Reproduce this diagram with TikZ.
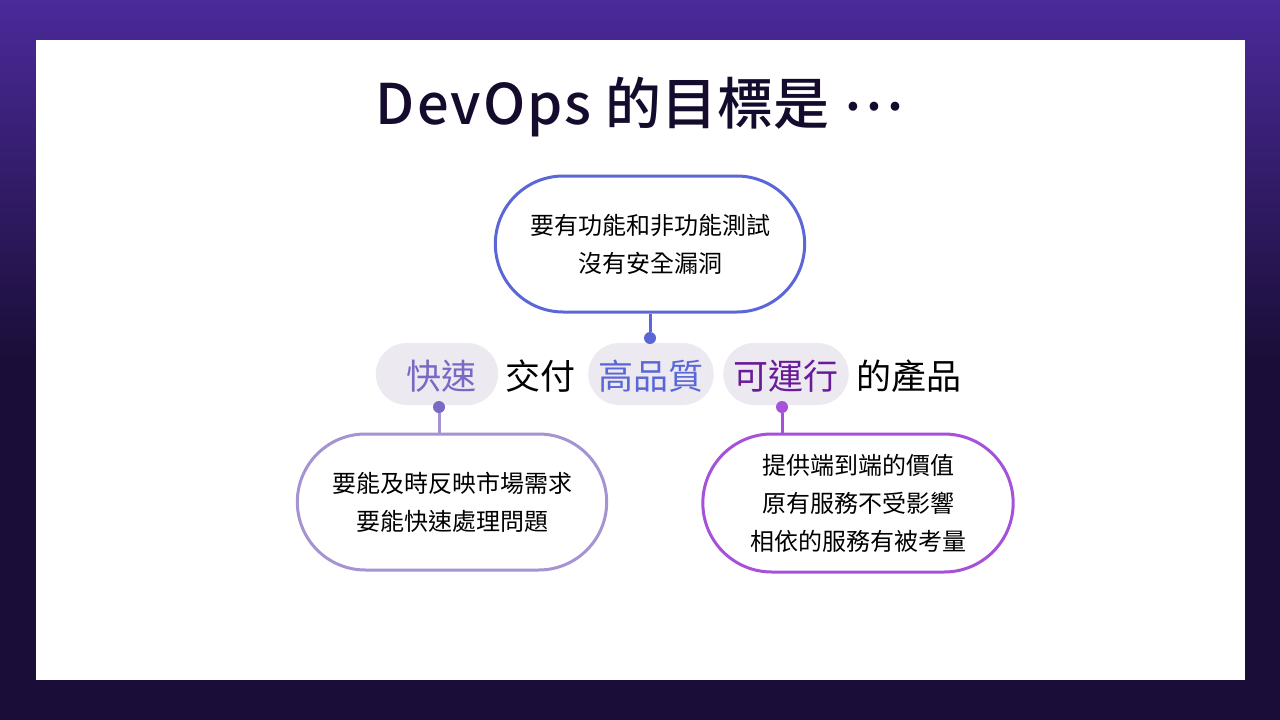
\documentclass[tikz,border=0pt]{standalone}
\usepackage{fontspec}
\setmainfont{Noto Sans CJK TC}
\newfontfamily\boldcjk{Noto Sans CJK TC Medium}
\usetikzlibrary{shapes.misc}
\definecolor{bgA}{HTML}{1A0E38}
\definecolor{bgB}{HTML}{4B2A9A}
\definecolor{cBlue}{HTML}{5B67D6}
\definecolor{cLav}{HTML}{A593D2}
\definecolor{cPur}{HTML}{A551DA}
\definecolor{tLav}{HTML}{7B68C4}
\definecolor{tPur}{HTML}{6A1B9A}
\definecolor{pill}{HTML}{ECE9F1}
\tikzset{
 bubble/.style={draw=#1, line width=3pt, rounded rectangle, fill=white, align=center, font=\fontsize{24}{38}\selectfont},
 pillbox/.style={fill=pill, rounded rectangle, minimum height=62pt},
 word/.style={font=\fontsize{35}{36}\selectfont, inner sep=0pt, anchor=base},
 dotc/.style={circle, fill=#1, inner sep=0pt, minimum size=12pt},
 link/.style={draw=#1, line width=3pt},
}
\begin{document}
\begin{tikzpicture}[x=1pt,y=-1pt]
\shade[top color=bgB, bottom color=bgA, middle color=bgA] (0,0) rectangle (1280,720);
\useasboundingbox (0,0) rectangle (1280,720);
\fill[white] (36,40) rectangle (1245,680);
\node[font=\fontsize{56}{60}\selectfont\boldcjk, text=bgA!80!black] (title) at (640,107) {D\kern2pt e\kern2pt v\kern2pt O\kern2pt p\kern2pt s\hspace{14pt}的目標是\hspace{14pt}\raisebox{14pt}{…}};
% pills
\node[pillbox, minimum width=129pt] (p1) at (437,374) {};
\node[pillbox, minimum width=132pt] (p2) at (651,374) {};
\node[pillbox, minimum width=132pt] (p3) at (786,374) {};
\node[word, text=tLav] (w1) at (441,389) {快速};
\node[word] (w2) at (540,389) {交付};
\node[word, text=cBlue] (w3) at (651,389) {高品質};
\node[word, text=tPur] (w4) at (786,389) {可運行};
\node[word] (w5) at (909,389) {的產品};
% bubbles
\node[bubble=cBlue, minimum width=316pt, minimum height=136pt] (b1) at (650,244) {要有功能和非功能測試\\沒有安全漏洞};
\node[bubble=cLav, minimum width=316pt, minimum height=136pt] (b2) at (452,502) {要能及時反映市場需求\\要能快速處理問題};
\node[bubble=cPur, minimum width=317pt, minimum height=138pt] (b3) at (858,503) {提供端到端的價值\\原有服務不受影響\\相依的服務有被考量};
% dots & links
\node[dotc=cBlue] (d1) at (650,338) {};
\node[dotc=tLav] (d2) at (439,407) {};
\node[dotc=cPur] (d3) at (782,407) {};
\draw[link=cBlue] (b1.south) -- (d1);
\draw[link=cLav] (d2) -- (d2 |- b2.north);
\draw[link=cPur] (d3) -- (d3 |- b3.north);
\end{tikzpicture}
\end{document}
